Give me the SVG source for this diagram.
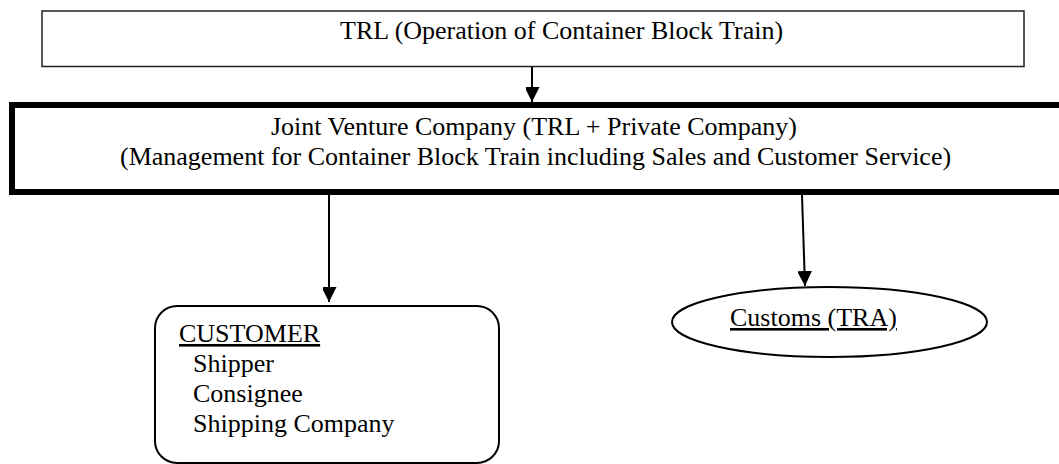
<svg xmlns="http://www.w3.org/2000/svg" width="1059" height="464" viewBox="0 0 1059 464">
<defs>
<style>
.t{font-family:"Liberation Serif","Times New Roman",serif;font-size:26px;fill:#000}
.c{stroke:#000;stroke-width:2;fill:none}
</style>
<marker id="ah" markerUnits="userSpaceOnUse" markerWidth="16" markerHeight="14" refX="15" refY="7.5" orient="auto">
<path d="M0,0 L15,7.5 L0,15 Z" fill="#000"/>
</marker>
</defs>
<rect width="1059" height="464" fill="#fff"/>
<g id="trl">
<rect x="42" y="11" width="982" height="55.5" fill="#fff" stroke="#222" stroke-width="1.5"/>
<text class="t" x="340" y="39">TRL (Operation of Container Block Train)</text>
</g>
<g id="jv">
<rect x="12" y="105" width="1060" height="87" fill="#fff" stroke="#000" stroke-width="6"/>
<text class="t" x="271" y="135">Joint Venture Company (TRL + Private Company)</text>
<text class="t" x="120" y="165">(Management for Container Block Train including Sales and Customer Service)</text>
</g>
<g id="customer">
<rect x="155" y="306" width="344" height="157" rx="22" ry="22" fill="#fff" stroke="#000" stroke-width="2"/>
<text class="t" x="179" y="342" text-decoration="underline">CUSTOMER</text>
<text class="t" x="193" y="372">Shipper</text>
<text class="t" x="193" y="402">Consignee</text>
<text class="t" x="193" y="432">Shipping Company</text>
</g>
<g id="customs">
<ellipse cx="829.5" cy="322" rx="157.5" ry="35" fill="#fff" stroke="#000" stroke-width="2"/>
<text class="t" x="730" y="326" text-decoration="underline">Customs (TRA)</text>
</g>
<g id="connectors">
<line class="c" x1="532" y1="67" x2="532" y2="102" marker-end="url(#ah)"/>
<line class="c" x1="329" y1="195" x2="329" y2="302" marker-end="url(#ah)"/>
<line class="c" x1="802" y1="195" x2="805" y2="286" marker-end="url(#ah)"/>
</g>
</svg>
